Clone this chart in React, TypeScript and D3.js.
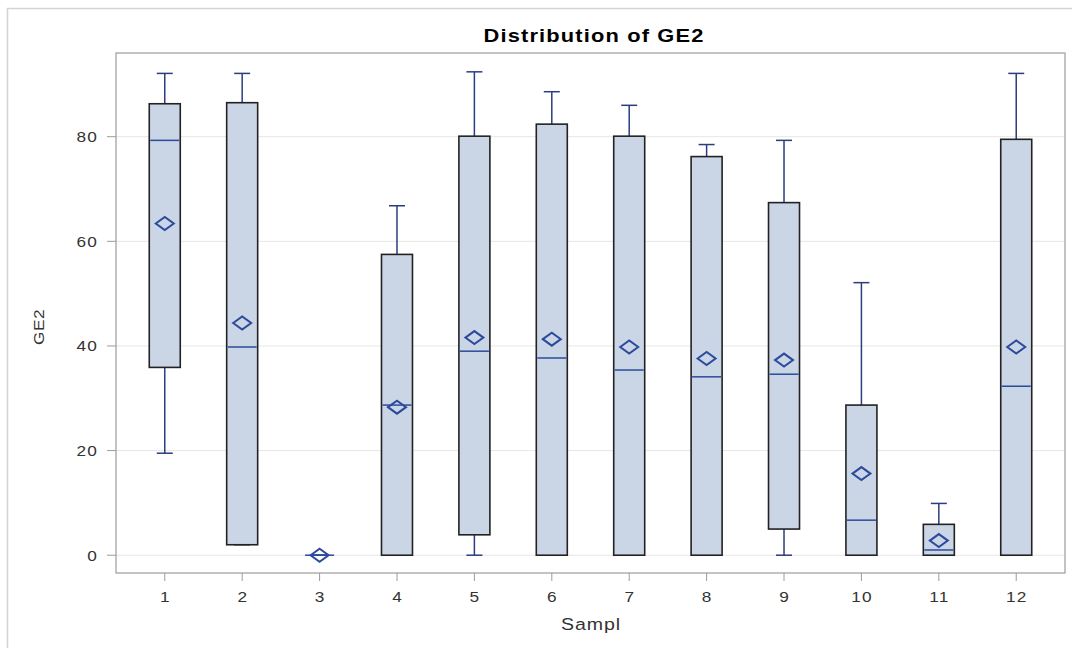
import React from "react";
import * as d3 from "d3";

// Sample identifiers along the category axis
const samples = ["1", "2", "3", "4", "5", "6", "7", "8", "9", "10", "11", "12"];
// Five-number summaries and means of GE2 per sample
const whiskerLow = [19.5, 2.0, 0, 0, 0, 0, 0, 0, 0, 0, 0, 0];
const q1 = [35.9, 2.0, 0, 0, 3.9, 0, 0, 0, 5.0, 0, 0, 0];
const median = [79.3, 39.8, 0, 28.7, 39.0, 37.7, 35.4, 34.1, 34.6, 6.7, 1.0, 32.3];
const q3 = [86.3, 86.5, 0, 57.5, 80.1, 82.4, 80.1, 76.2, 67.4, 28.7, 5.9, 79.5];
const whiskerHigh = [92.1, 92.1, 0, 66.8, 92.4, 88.6, 86.0, 78.5, 79.3, 52.1, 9.9, 92.1];
const mean = [63.4, 44.4, 0, 28.3, 41.6, 41.3, 39.8, 37.6, 37.3, 15.6, 2.8, 39.8];
const yTicks = [0, 20, 40, 60, 80];

const W = 1072;
const H = 648;
const frame = { left: 116, right: 1065, top: 53, bottom: 573 };

const FONT = "'Liberation Sans', Arial, sans-serif";
const BOX_FILL = "#cad5e5";
const BOX_EDGE = "#222222";
const BLUE = "#2c4a9c";
const WHISKER = "#2b3d7e";
const STRETCH = 1.15;

// Text drawn with the slightly wide lettering used throughout the graph
function WideText(props: {
  x: number;
  y: number;
  anchor: "start" | "middle" | "end";
  size: number;
  weight?: string;
  fill?: string;
  spacing?: number;
  dy?: string;
  rotate?: number;
  children: React.ReactNode;
}) {
  const { x, y, anchor, size, weight, fill, spacing, dy, rotate, children } = props;
  return (
    <g transform={`translate(${x},${y})${rotate ? ` rotate(${rotate})` : ""} scale(${STRETCH},1)`}>
      <text
        x={0}
        y={0}
        dy={dy}
        textAnchor={anchor}
        fontSize={size}
        fontWeight={weight}
        fill={fill ?? "#333"}
        letterSpacing={spacing ?? 0}
      >
        {children}
      </text>
    </g>
  );
}

export default function App() {
  const x = d3
    .scalePoint<string>()
    .domain(samples)
    .range([frame.left, frame.right])
    .padding(0.63);
  const y = d3.scaleLinear().domain([-3.4, 96]).range([frame.bottom, frame.top]);

  const boxW = 31;
  const capW = 16;
  const dw = 9;
  const dh = 6.5;

  const rows = samples.map((s, i) => ({
    s,
    lo: whiskerLow[i],
    q1: q1[i],
    med: median[i],
    q3: q3[i],
    hi: whiskerHigh[i],
    mean: mean[i],
  }));

  return (
    <svg
      width={W}
      height={H}
      style={{ position: "absolute", left: 0, top: 0, background: "#fff" }}
      fontFamily={FONT}
    >
      <rect x={0} y={0} width={W} height={H} fill="#fff" />
      {/* outer graph border */}
      <rect x={7.5} y={8.5} width={W + 10} height={H + 10} fill="none" stroke="#d4d4d4" strokeWidth={1.5} />

      <WideText x={594} y={42} anchor="middle" size={19} weight="bold" fill="#000" spacing={1}>
        Distribution of GE2
      </WideText>

      {/* gridlines */}
      {yTicks.map((t) => (
        <line
          key={"g" + t}
          x1={frame.left}
          x2={frame.right}
          y1={y(t)}
          y2={y(t)}
          stroke="#e6e6e6"
          strokeWidth={1}
        />
      ))}

      {/* whiskers */}
      {rows.map((r) => {
        const cx = x(r.s)!;
        return (
          <g key={"w" + r.s} stroke={WHISKER} strokeWidth={1.5}>
            <line x1={cx} x2={cx} y1={y(r.q3)} y2={y(r.hi)} />
            <line x1={cx - capW / 2} x2={cx + capW / 2} y1={y(r.hi)} y2={y(r.hi)} />
            <line x1={cx} x2={cx} y1={y(r.q1)} y2={y(r.lo)} />
            <line x1={cx - capW / 2} x2={cx + capW / 2} y1={y(r.lo)} y2={y(r.lo)} />
          </g>
        );
      })}

      {/* boxes */}
      {rows.map((r) => {
        const cx = x(r.s)!;
        return (
          <rect
            key={"b" + r.s}
            x={cx - boxW / 2}
            y={y(r.q3)}
            width={boxW}
            height={Math.max(0, y(r.q1) - y(r.q3))}
            fill={BOX_FILL}
            stroke={BOX_EDGE}
            strokeWidth={1.6}
          />
        );
      })}

      {/* medians */}
      {rows.map((r) => {
        const cx = x(r.s)!;
        return (
          <line
            key={"m" + r.s}
            x1={cx - boxW / 2 + 1}
            x2={cx + boxW / 2 - 1}
            y1={y(r.med)}
            y2={y(r.med)}
            stroke={BLUE}
            strokeWidth={1.5}
          />
        );
      })}

      {/* means */}
      {rows.map((r) => {
        const cx = x(r.s)!;
        const cy = y(r.mean);
        return (
          <path
            key={"d" + r.s}
            d={`M${cx - dw},${cy}L${cx},${cy - dh}L${cx + dw},${cy}L${cx},${cy + dh}Z`}
            fill="none"
            stroke={BLUE}
            strokeWidth={2}
          />
        );
      })}

      {/* plot frame */}
      <rect
        x={frame.left}
        y={frame.top}
        width={frame.right - frame.left}
        height={frame.bottom - frame.top}
        fill="none"
        stroke="#9c9c9c"
        strokeWidth={1.2}
      />

      {/* y axis */}
      {yTicks.map((t) => (
        <g key={"yt" + t}>
          <line x1={frame.left - 9} x2={frame.left} y1={y(t)} y2={y(t)} stroke="#9c9c9c" />
          <WideText x={frame.left - 18} y={y(t)} dy="0.36em" anchor="end" size={15} spacing={1}>
            {t}
          </WideText>
        </g>
      ))}
      <WideText x={44} y={(frame.top + frame.bottom) / 2 + 14} anchor="middle" size={15} rotate={-90} spacing={0.5}>
        GE2
      </WideText>

      {/* x axis */}
      {samples.map((s) => (
        <g key={"xt" + s}>
          <line x1={x(s)!} x2={x(s)!} y1={frame.bottom} y2={frame.bottom + 8} stroke="#9c9c9c" />
          <WideText x={x(s)! + 0.6} y={602} anchor="middle" size={15} spacing={1}>
            {s}
          </WideText>
        </g>
      ))}
      <WideText x={591} y={630} anchor="middle" size={17} spacing={0.8}>
        Sampl
      </WideText>
    </svg>
  );
}
